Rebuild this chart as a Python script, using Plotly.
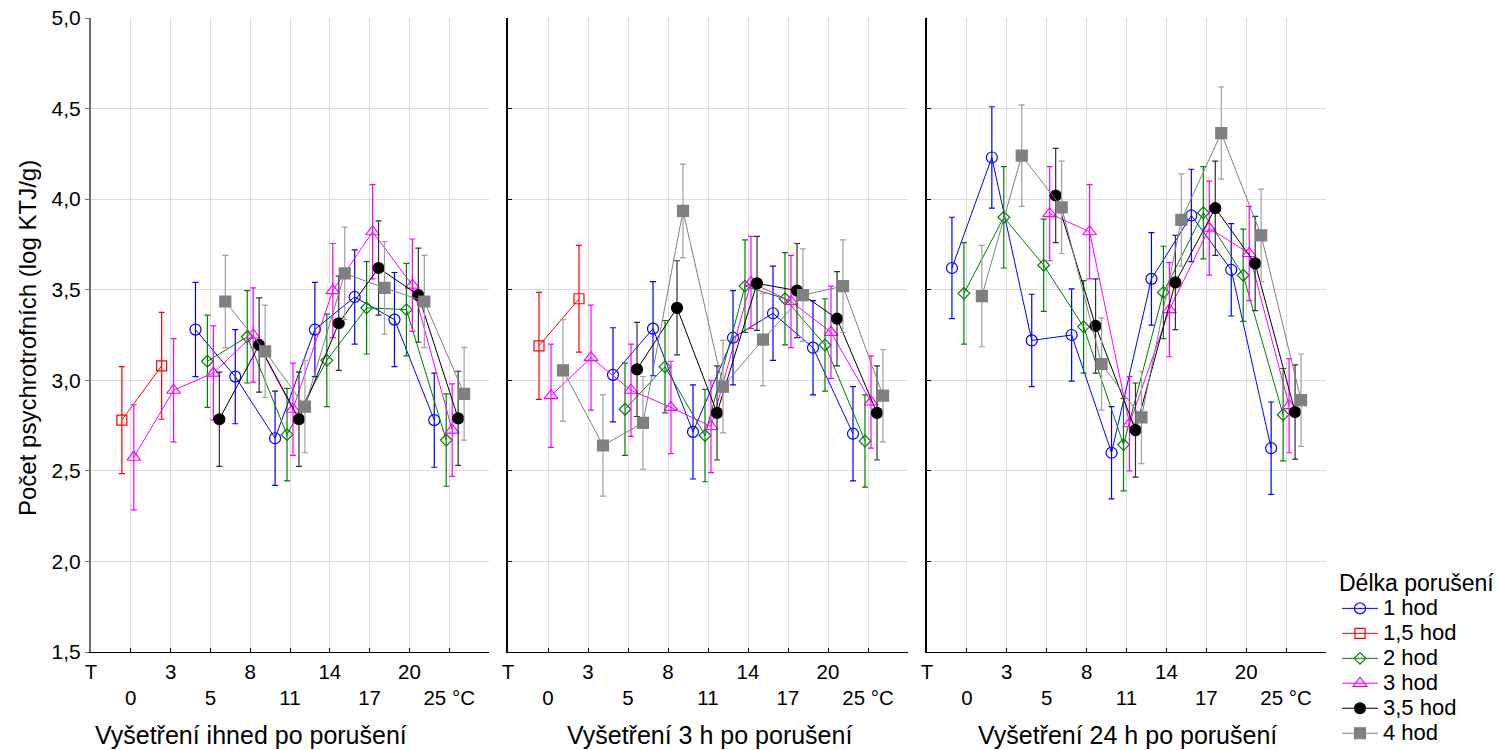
import plotly.graph_objects as go

# ---------------- data ----------------
axis_labels = ["T", "0", "3", "5", "8", "11", "14", "17", "20", "25 °C"]
temps = ["0", "3", "5", "8", "11", "14", "17", "20", "25 °C"]  # data categories (axis positions 1..9)
series_names = ["1 hod", "1,5 hod", "2 hod", "3 hod", "3,5 hod", "4 hod"]
panel_titles = ["Vyšetření ihned po porušení", "Vyšetření 3 h po porušení", "Vyšetření 24 h po porušení"]
y_title = "Počet psychrotrofních (log KTJ/g)"
legend_title = "Délka porušení"

N = None
# Panel 1: ihned
p1_1hod = [N, N, 3.28, 3.02, 2.68, 3.28, 3.46, 3.335, 2.78]
p1_15hod = [2.78, 3.08, N, N, N, N, N, N, N]
p1_2hod = [N, N, 3.105, 3.24, 2.70, 3.11, 3.40, 3.39, 2.67]
p1_3hod = [2.575, 2.945, 3.04, 3.25, 2.84, 3.495, 3.82, 3.525, 2.725]
p1_35hod = [N, N, 2.785, 3.195, 2.785, 3.315, 3.62, 3.47, 2.79]
p1_4hod = [N, N, 3.435, 3.16, 2.855, 3.59, 3.51, 3.435, 2.925]
# Panel 2: 3 h
p2_1hod = [N, N, 3.03, 3.285, 2.715, 3.235, 3.37, 3.18, 2.705]
p2_15hod = [3.19, 3.45, N, N, N, N, N, N, N]
p2_2hod = [N, N, 2.84, 3.075, 2.695, 3.52, 3.45, 3.195, 2.665]
p2_3hod = [2.915, 3.125, 2.945, 2.85, 2.745, 3.54, 3.435, 3.265, 2.88]
p2_35hod = [N, N, 3.06, 3.40, 2.82, 3.535, 3.495, 3.34, 2.82]
p2_4hod = [3.055, 2.64, 2.765, 3.935, 2.965, 3.225, 3.47, 3.52, 2.915]
# Panel 3: 24 h
p3_1hod = [3.62, 4.23, 3.22, 3.25, 2.60, 3.56, 3.91, 3.61, 2.625]
p3_15hod = [N, N, N, N, N, N, N, N, N]
p3_2hod = [3.48, 3.90, 3.635, 3.295, 2.645, 3.485, 3.925, 3.58, 2.81]
p3_3hod = [N, N, 3.92, 3.82, 2.76, 3.39, 3.84, 3.70, 2.86]
p3_35hod = [N, N, 4.02, 3.30, 2.725, 3.54, 3.95, 3.645, 2.825]
p3_4hod = [3.465, 4.24, 3.955, 3.09, 2.795, 3.885, 4.365, 3.80, 2.89]

# error half-widths
e1_1hod = [0.26] * 9
e1_15hod = [0.295] * 9
e1_2hod = [0.255] * 9
e1_3hod = [0.29, 0.285, 0.26, 0.26, 0.255, 0.26, 0.26, 0.255, 0.255]
e1_35hod = [0.26] * 9
e1_4hod = [0.255] * 9

e2_1hod = [0.26] * 9
e2_15hod = [0.295] * 9
e2_2hod = [0.255] * 9
e2_3hod = [0.285, 0.29, 0.255, 0.255, 0.255, 0.255, 0.255, 0.255, 0.255]
e2_35hod = [0.26] * 9
e2_4hod = [0.28, 0.28, 0.256, 0.258, 0.255, 0.255, 0.255, 0.255, 0.255]

e3_1hod = [0.28, 0.28, 0.255, 0.255, 0.255, 0.255, 0.255, 0.255, 0.255]
e3_15hod = [0.28] * 9
e3_2hod = [0.28, 0.28, 0.255, 0.255, 0.255, 0.255, 0.255, 0.255, 0.255]
e3_3hod = [0.26] * 9
e3_35hod = [0.26] * 9
e3_4hod = [0.28, 0.28, 0.255, 0.255, 0.255, 0.255, 0.255, 0.255, 0.255]

panels = [
    [p1_1hod, p1_15hod, p1_2hod, p1_3hod, p1_35hod, p1_4hod],
    [p2_1hod, p2_15hod, p2_2hod, p2_3hod, p2_35hod, p2_4hod],
    [p3_1hod, p3_15hod, p3_2hod, p3_3hod, p3_35hod, p3_4hod],
]
errors = [
    [e1_1hod, e1_15hod, e1_2hod, e1_3hod, e1_35hod, e1_4hod],
    [e2_1hod, e2_15hod, e2_2hod, e2_3hod, e2_35hod, e2_4hod],
    [e3_1hod, e3_15hod, e3_2hod, e3_3hod, e3_35hod, e3_4hod],
]

# ---------------- styles ----------------
colors = ["#0000ff", "#ff0000", "#008000", "#ff00ff", "#000000", "#808080"]
err_colors = ["#0000ff", "#ff0000", "#008000", "#ff00ff", "#303030", "#a0a0a0"]
symbols = ["circle-open", "square-open", "diamond-open", "triangle-up-open", "circle", "square"]
sizes = [11, 10, 9, 12, 11, 11]
dodge = [-0.375, -0.225, -0.075, 0.075, 0.225, 0.375]

FONT = "Arial, Liberation Sans, sans-serif"
GRID = "#dcdcdc"

W, H = 1497, 750
L, R, T, B = 91, 1326, 18, 652          # plot-area edges in pixels
ml, mt, mr, mb = L, T, W - R, H - B
px = lambda x: (x - L) / (R - L)
py = lambda y: (B - y) / (B - T)
domains = [[0, px(489)], [px(508), px(908)], [px(927), 1.0]]

fig = go.Figure()
for p in range(3):
    xa = "x" if p == 0 else f"x{p+1}"
    ya = "y" if p == 0 else f"y{p+1}"
    for s in range(6):
        vals = panels[p][s]
        xs = [i + 1 + dodge[s] for i, v in enumerate(vals) if v is not None]
        ys = [v for v in vals if v is not None]
        es = [errors[p][s][i] for i, v in enumerate(vals) if v is not None]
        fig.add_trace(go.Scatter(
            x=xs, y=ys, mode="lines+markers",
            name=f'<span style="font-size:22px">{series_names[s]}</span>',
            legendgroup=series_names[s], showlegend=(p == 0),
            xaxis=xa, yaxis=ya,
            line=dict(color=colors[s], width=1),
            marker=dict(symbol=symbols[s], size=sizes[s], color=colors[s],
                        line=dict(color=colors[s], width=1.2)),
            error_y=dict(type="data", array=es, visible=True, color=err_colors[s],
                         thickness=1.2, width=3),
            hoverinfo="x+y",
        ))

ticktext = []
for i, lab in enumerate(axis_labels):
    ticktext.append(lab if i % 2 == 0 else "<br>" + lab)
ticktext.append("")

layout = dict(
    width=W, height=H, plot_bgcolor="white", paper_bgcolor="white",
    margin=dict(l=ml, r=mr, t=mt, b=mb, autoexpand=False),
    font=dict(family=FONT, size=19, color="black"),
    separators=", ",
    showlegend=True,
    legend=dict(x=px(1337), xanchor="left", y=py(561), yanchor="top",
                title=dict(text=legend_title, font=dict(size=23)),
                font=dict(size=16.9), bgcolor="rgba(0,0,0,0)", tracegroupgap=0,
                itemwidth=36),
)
for p in range(3):
    xk = "xaxis" if p == 0 else f"xaxis{p+1}"
    yk = "yaxis" if p == 0 else f"yaxis{p+1}"
    layout[xk] = dict(domain=domains[p], range=[0, 10], tickmode="array",
                      tickvals=list(range(11)), ticktext=ticktext,
                      showgrid=False,
                      minor=dict(tickmode="array", tickvals=list(range(1, 10)),
                                 showgrid=True, gridcolor=GRID, gridwidth=1, ticks=""),
                      showline=True, linecolor="black", linewidth=1,
                      ticks="inside", ticklen=4, tickcolor="black",
                      tickfont=dict(size=20.5), ticklabelstandoff=1, zeroline=False,
                      anchor="y" if p == 0 else f"y{p+1}")
    layout[yk] = dict(range=[1.5, 5.0], tickmode="array",
                      tickvals=[1.5, 2.0, 2.5, 3.0, 3.5, 4.0, 4.5, 5.0],
                      tickformat=".1f", showticklabels=(p == 0),
                      ticklabeloverflow="allow",
                      showgrid=False,
                      minor=dict(tickmode="array", tickvals=[2.0, 2.5, 3.0, 3.5, 4.0, 4.5],
                                 showgrid=True, gridcolor=GRID, gridwidth=1, ticks=""),
                      showline=True, linecolor="#707070" if p == 0 else "black",
                      linewidth=2 if p == 0 else 1.5,
                      ticks="outside" if p == 0 else "inside", ticklen=4,
                      tickcolor="#707070" if p == 0 else "black",
                      tickfont=dict(size=21), zeroline=False,
                      anchor="x" if p == 0 else f"x{p+1}")
fig.update_layout(**layout)

annotations = [
    dict(text=y_title, x=px(27), y=py(338), xref="paper", yref="paper",
         textangle=-90, showarrow=False, font=dict(size=24), xanchor="center", yanchor="middle"),
]
for cx, t in zip([251, 709, 1127], panel_titles):
    annotations.append(dict(text=t, x=px(cx), y=py(735), xref="paper", yref="paper",
                            showarrow=False, font=dict(size=25), xanchor="center", yanchor="middle"))
fig.update_layout(annotations=annotations)

fig.write_html("out.html", config={"displayModeBar": False},
               post_script="document.body.style.margin='0';document.body.style.padding='0';")
